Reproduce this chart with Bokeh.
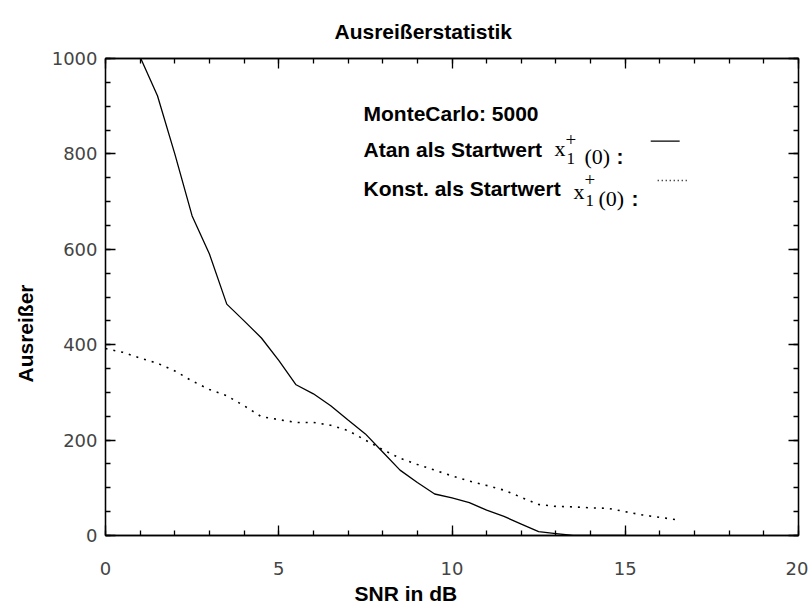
from bokeh.plotting import figure
from bokeh.models import Label, SingleIntervalTicker, LinearAxis, Range1d, Title
from bokeh.embed import file_html
from bokeh.resources import INLINE

# ---- data -------------------------------------------------------------
snr_atan = [1.0, 1.5, 2.0, 2.5, 3.0, 3.5, 4.0, 4.5, 5.0, 5.5, 6.0, 6.5, 7.0, 7.5,
            8.0, 8.5, 9.0, 9.5, 10.0, 10.5, 11.0, 11.5, 12.0, 12.5, 13.0, 13.5,
            14.0, 14.5, 15.0]
outl_atan = [1003, 922, 800, 670, 590, 485, 450, 414, 367, 316, 297, 272, 242, 213,
             175, 137, 111, 87, 79, 69, 53, 40, 24, 8, 4, 0, 0, 0, 0]

snr_konst = [0.0, 0.5, 1.0, 1.5, 2.0, 2.5, 3.0, 3.5, 4.0, 4.5, 5.0, 5.5, 6.0, 6.5,
             7.0, 7.5, 8.0, 8.5, 9.0, 9.5, 10.0, 10.5, 11.0, 11.5, 12.0, 12.5,
             13.0, 13.5, 14.0, 14.5, 15.0, 15.5, 16.0, 16.5]
outl_konst = [392, 384, 372, 361, 345, 324, 306, 293, 272, 249, 243, 237, 237, 231,
              220, 200, 180, 162, 149, 137, 125, 114, 105, 95, 80, 65, 61, 60, 58,
              57, 50, 43, 38, 33]

title_text = "Ausreißerstatistik"
x_label = "SNR in dB"
y_label = "Ausreißer"
legend_header = "MonteCarlo: 5000"
legend_atan = "Atan als Startwert"
legend_konst = "Konst. als Startwert"

# ---- figure -----------------------------------------------------------
W, H = 808, 611
ML, MR, MT, MB = 104, 10, 58, 76
X0, X1, Y0, Y1 = 0, 20, 0, 1000
p = figure(width=W, height=H, output_backend="svg", toolbar_location=None,
           x_range=Range1d(X0, X1), y_range=Range1d(Y0, Y1),
           min_border_left=ML, min_border_right=MR, min_border_top=MT,
           min_border_bottom=MB, x_axis_type=None, y_axis_type=None)
p.background_fill_color = "white"
p.border_fill_color = "white"
p.outline_line_color = "black"
p.outline_line_width = 1.3
p.xgrid.visible = False
p.ygrid.visible = False


def style_axis(ax, labels=True, standoff=8):
    ax.axis_line_color = "black"
    ax.axis_line_width = 1.3
    ax.major_tick_in = 10
    ax.major_tick_out = 0
    ax.minor_tick_in = 5
    ax.minor_tick_out = 0
    ax.major_tick_line_color = "black"
    ax.minor_tick_line_color = "black"
    ax.major_tick_line_width = 1.3
    ax.minor_tick_line_width = 1.3
    if labels:
        ax.major_label_text_font = "DejaVu Sans"
        ax.major_label_text_font_size = "18px"
        ax.major_label_text_color = "#444444"
        ax.major_label_standoff = standoff
    else:
        ax.major_label_text_font_size = "0px"
        ax.major_label_standoff = 0


xb = LinearAxis(ticker=SingleIntervalTicker(interval=5, num_minor_ticks=5))
style_axis(xb, True, 26)
xa = LinearAxis(ticker=SingleIntervalTicker(interval=5, num_minor_ticks=5))
style_axis(xa, False)
yl = LinearAxis(ticker=SingleIntervalTicker(interval=200, num_minor_ticks=4))
style_axis(yl, True, 8)
yr = LinearAxis(ticker=SingleIntervalTicker(interval=200, num_minor_ticks=4))
style_axis(yr, False)
p.add_layout(xb, "below")
p.add_layout(xa, "above")
p.add_layout(yl, "left")
p.add_layout(yr, "right")

# titles in the side panels (not clipped by the frame)
def side_title(txt, loc, offset, standoff):
    t = Title(text=txt, align="left", offset=offset, standoff=standoff,
              text_font="Liberation Sans", text_font_size="21px",
              text_font_style="bold", text_color="black")
    p.add_layout(t, loc)

side_title(title_text, "above", 229, 31)
side_title(x_label, "below", 249, 4)
side_title(y_label, "left", 153, 23)

# ---- curves -----------------------------------------------------------
p.line(snr_atan, outl_atan, line_color="black", line_width=1.3)
p.line(snr_konst, outl_konst, line_color="black", line_width=1.6,
       line_dash="2 6")

FW = W - ML - MR
FH = H - MT - MB
def xd(px):
    return X0 + (px - ML) / FW * (X1 - X0)
def yd(py):
    return Y0 + (H - MB - py) / FH * (Y1 - Y0)

# ---- legend texts (canvas units) ----------------------------------------
def lab(txt, px, py, size, font="Liberation Sans", style="bold"):
    p.add_layout(Label(x=px, y=py, x_units="canvas", y_units="canvas",
                       text=txt, text_font=font,
                       text_font_size=f"{size}px", text_font_style=style,
                       text_align="left", text_baseline="alphabetic",
                       text_color="black"))

lab(legend_header, 363, 113, 21)
lab(legend_atan, 363, 149, 21)
lab(legend_konst, 363, 188, 21)

# formula row 1
lab("x", 554, 148, 22, font="Liberation Serif", style="normal")
lab("1", 566, 158, 17, font="Liberation Serif", style="normal")
lab("+", 565, 139, 19, font="Liberation Serif", style="normal")
lab("(0)", 584, 156, 22, font="Liberation Serif", style="normal")
lab(":", 616, 156, 21)
# formula row 2
lab("x", 573, 191, 22, font="Liberation Serif", style="normal")
lab("1", 585, 200, 17, font="Liberation Serif", style="normal")
lab("+", 584, 179, 19, font="Liberation Serif", style="normal")
lab("(0)", 598, 198, 22, font="Liberation Serif", style="normal")
lab(":", 631, 198, 21)

# legend line samples
p.line([xd(650), xd(679)], [yd(140.7), yd(140.7)], line_color="black", line_width=1.3)
p.line([xd(657), xd(686)], [yd(180), yd(180)], line_color="black", line_width=1.6,
       line_dash="1 3")

open("out.html", "w").write(file_html(p, INLINE))
